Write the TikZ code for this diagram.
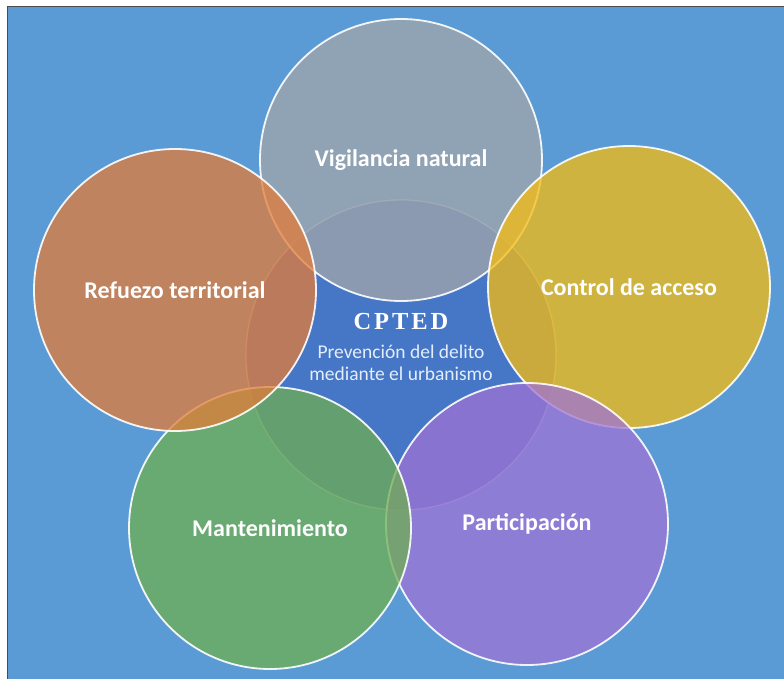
\documentclass[tikz,border=0pt]{standalone}
\usepackage{fontspec}
\setmainfont{Carlito}
\newfontfamily\cptedfont[LetterSpace=12]{Liberation Serif}
\definecolor{bgblue}{HTML}{5B9BD5}
\definecolor{cblue}{HTML}{4676C6}
\definecolor{cgray}{HTML}{A3A7A9}
\definecolor{corange}{HTML}{E27C38}
\definecolor{cgold}{HTML}{F7BC10}
\definecolor{cgreen}{HTML}{6FAE52}
\definecolor{cpurple}{HTML}{9F73D5}
\definecolor{subtext}{HTML}{E3EEF9}
\tikzset{
  petal/.style={circle, minimum size=282pt, inner sep=0pt, draw=white, line width=1.8pt,
    fill opacity=0.75, draw opacity=0.9, text opacity=1, text=white,
    font=\fontsize{24}{28}\selectfont\bfseries},
  hub/.style={circle, minimum size=310pt, inner sep=0pt, fill=cblue, draw=white, draw opacity=0.4, line width=1.2pt}
}
\begin{document}
\begin{tikzpicture}[x=1pt,y=-1pt]
\useasboundingbox (0,0) rectangle (784,679);
\fill[white] (0,0) rectangle (784,679);
\draw[fill=bgblue, draw=gray!60!black, line width=0.8pt] (7,6) rectangle (790,690);
\node[hub] (hub) at (401,355) {};
\node[petal, fill=cgray] (vig) at (401,160) {Vigilancia natural};
\node[petal, fill=cgold] (acc) at (629,287) {Control de acceso};
\node[petal, fill=cpurple] (par) at (527,524) {Participación};
\node[petal, fill=cgreen] (man) at (270,528) {Mantenimiento};
\node[petal, fill=corange] (ref) at (175,290) {Refuezo territorial};
\node[text=white, font=\cptedfont\bfseries\fontsize{24.5}{28}\selectfont] (cpted) at (401,322) {CPTED};
\node[text=subtext, align=center, font=\fontsize{19.5}{22}\selectfont] (sub) at (401,363) {Prevención del delito\\mediante el urbanismo};
\end{tikzpicture}
\end{document}
